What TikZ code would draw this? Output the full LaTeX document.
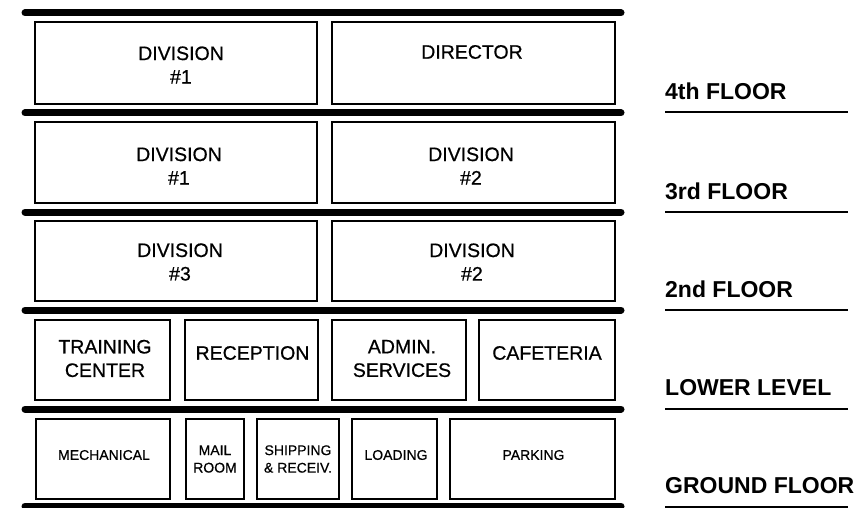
\documentclass[tikz,border=0pt]{standalone}
\usepackage{fontspec}
\setmainfont{Liberation Sans}
\newfontfamily\medfont[FakeBold=0.6]{Liberation Sans}
\begin{document}
\begin{tikzpicture}[x=1pt,y=-1pt,
  slab/.style={line width=7pt,line cap=round},
  room/.style={draw,line width=1.8pt,inner sep=0pt,rectangle},
  bigtxt/.style={font=\medfont\fontsize{19.5}{23.5}\selectfont,align=center,inner sep=0pt},
  smalltxt/.style={font=\medfont\fontsize{14}{17.5}\selectfont,align=center,inner sep=0pt},
  lbl/.style={font=\fontsize{23}{26}\selectfont\bfseries,anchor=west,inner sep=0pt},
  lblline/.style={line width=2pt}]
\useasboundingbox (0,0) rectangle (859,508);

% floor slabs
\foreach \n/\y in {s0/13,s1/113,s2/212,s3/310,s4/409,s5/506}{
  \coordinate (\n L) at (25,\y);
  \coordinate (\n R) at (621,\y);
  \draw[slab] (\n L) -- (\n R);
}

% 4th floor
\node[room,minimum width=282pt,minimum height=82pt] (r4a) at (176,63) {};
\node[room,minimum width=283pt,minimum height=82pt] (r4b) at (473.5,63) {};
\node[bigtxt] (t4a) at (181,65) {DIVISION\\\#1};
\node[bigtxt] (t4b) at (472,52) {DIRECTOR};

% 3rd floor
\node[room,minimum width=282pt,minimum height=81pt] (r3a) at (176,162.5) {};
\node[room,minimum width=283pt,minimum height=81pt] (r3b) at (473.5,162.5) {};
\node[bigtxt] (t3a) at (179,166) {DIVISION\\\#1};
\node[bigtxt] (t3b) at (471,166) {DIVISION\\\#2};

% 2nd floor
\node[room,minimum width=282pt,minimum height=80pt] (r2a) at (176,261) {};
\node[room,minimum width=283pt,minimum height=80pt] (r2b) at (473.5,261) {};
\node[bigtxt] (t2a) at (180,262) {DIVISION\\\#3};
\node[bigtxt] (t2b) at (472,262) {DIVISION\\\#2};

% lower level
\node[room,minimum width=135pt,minimum height=80pt] (rla) at (102.5,360) {};
\node[room,minimum width=133pt,minimum height=80pt] (rlb) at (251.5,360) {};
\node[room,minimum width=134pt,minimum height=80pt] (rlc) at (399,360) {};
\node[room,minimum width=136pt,minimum height=80pt] (rld) at (547,360) {};
\node[bigtxt] (tla) at (105,358.5) {TRAINING\\CENTER};
\node[bigtxt] (tlb) at (252.5,353) {RECEPTION};
\node[bigtxt] (tlc) at (402,358.5) {ADMIN.\\SERVICES};
\node[bigtxt] (tld) at (547,353) {CAFETERIA};

% ground floor
\node[room,minimum width=134pt,minimum height=80pt] (rga) at (103,459) {};
\node[room,minimum width=58pt,minimum height=80pt] (rgb) at (215,459) {};
\node[room,minimum width=82pt,minimum height=80pt] (rgc) at (298,459) {};
\node[room,minimum width=85pt,minimum height=80pt] (rgd) at (394.5,459) {};
\node[room,minimum width=165pt,minimum height=80pt] (rge) at (532.5,459) {};
\node[smalltxt] (tga) at (104,455) {MECHANICAL};
\node[smalltxt] (tgb) at (215,459) {MAIL\\ROOM};
\node[smalltxt] (tgc) at (298,459) {SHIPPING\\\& RECEIV.};
\node[smalltxt] (tgd) at (396,455) {LOADING};
\node[smalltxt] (tge) at (533.5,455) {PARKING};

% floor labels
\foreach \n/\y/\t in {l4/112/4th FLOOR,l3/212/3rd FLOOR,l2/310/2nd FLOOR,ll/409/LOWER LEVEL,lg/507/GROUND FLOOR}{
  \node[lbl] (\n) at (665,\y-21) {\t};
  \coordinate (\n A) at (665,\y);
  \coordinate (\n B) at (848,\y);
  \draw[lblline] (\n A) -- (\n B);
}
\end{tikzpicture}
\end{document}
